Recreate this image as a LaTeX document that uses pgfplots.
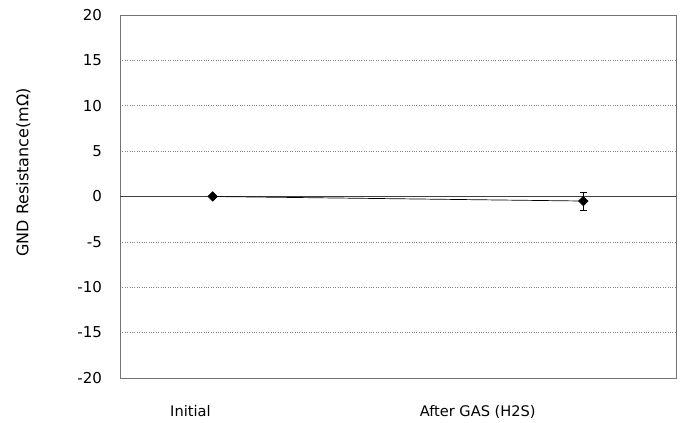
\documentclass[border=0pt]{standalone}
\usepackage{pgfplots}
\pgfplotsset{compat=1.18}
\usepackage{fontspec}
\setmainfont{DejaVu Sans}
\begin{document}
\fontsize{14.6bp}{17bp}\selectfont
\begin{tikzpicture}
\begin{axis}[
  scale only axis,
  width=556bp, height=363bp,
  xmin=0, xmax=3,
  ymin=-20, ymax=20,
  ytick={-15,-10,...,15},
  extra y ticks={-20,20},
  xtick={0.38,1.93},
  xticklabels={Initial, After GAS (H2S)},
  major tick length=0pt,
  axis line style={draw=black!55, line width=0.8bp},
  ymajorgrids,
  grid style={draw=black!50, dotted, line width=0.6bp},
  extra y tick style={grid=none},
  /pgf/number format/assume math mode=true,
  yticklabel style={xshift=-13bp, font=\fontsize{15bp}{17bp}\selectfont},
  xticklabel style={yshift=-22bp},
  ylabel={GND Resistance(mΩ)},
  ylabel style={at={(axis description cs:-0.174,0.566)}, anchor=center, font=\fontsize{16bp}{18bp}\selectfont},
  clip=false,
]
\draw[black!75, line width=0.8bp] (axis cs:0,0) -- (axis cs:3,0);
\addplot[black, line width=0.7bp, mark=square*, mark size=3.3bp, mark options={rotate=45},
  error bars/.cd, y dir=both, y explicit, error mark options={rotate=90, mark size=3.5bp, line width=0.8bp}, error bar style={line width=0.8bp}]
  table[x=x, y=y, y error=e] {
  x   y    e
  0.5 0.0  0.0
  2.5 -0.5 1.0
  };
\end{axis}
\path ([shift={(-120bp,-43bp)}]current axis.south west) rectangle ([shift={(4bp,15bp)}]current axis.north east);
\end{tikzpicture}
\end{document}
